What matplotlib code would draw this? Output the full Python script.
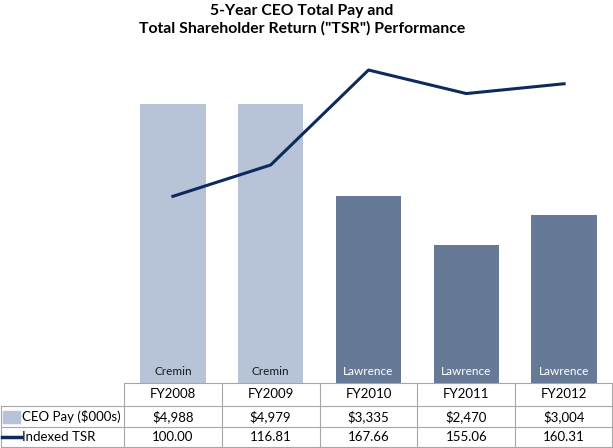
import matplotlib
matplotlib.use('Agg')
import matplotlib.pyplot as plt
from matplotlib.patches import Rectangle
from matplotlib.lines import Line2D

years = ['FY2008', 'FY2009', 'FY2010', 'FY2011', 'FY2012']
ceo_pay = [4988, 4979, 3335, 2470, 3004]
tsr = [100.00, 116.81, 167.66, 155.06, 160.31]
ceo_names = ['Cremin', 'Cremin', 'Lawrence', 'Lawrence', 'Lawrence']

light = '#b7c3d6'
dark = '#667a98'
navy = '#0c2a5e'
grid = '#a6a6a6'
font = 'Lato'

plt.rcParams['font.family'] = [font, 'DejaVu Sans']

W, H = 613, 448
fig = plt.figure(figsize=(W / 100, H / 100), dpi=100)

# plot area in pixels
x0, x1 = 124, 613
ytop, ybot = 47, 383
ax = fig.add_axes([x0 / W, 1 - ybot / H, (x1 - x0) / W, (ybot - ytop) / H])

xs = range(len(years))
colors = [light if n == 'Cremin' else dark for n in ceo_names]
ax.bar(xs, ceo_pay, width=0.67, color=colors)
ax.set_xlim(-0.5, len(years) - 0.5)
ax.set_ylim(0, 6000)
for i, n in enumerate(ceo_names):
    ax.text(i, 110, n, ha='center', va='bottom', fontsize=8.5,
            color='#1a1a1a' if n == 'Cremin' else 'white')

ax2 = ax.twinx()
ax2.plot(xs, tsr, color=navy, linewidth=2.2)
ax2.set_ylim(0, 180)

for a in (ax, ax2):
    a.set_xticks([])
    a.set_yticks([])
    for s in a.spines.values():
        s.set_visible(False)

fig.text(302 / W, 1 - 11 / H, '5-Year CEO Total Pay and',
         ha='center', va='center', fontsize=11.3, fontweight='bold')
fig.text(302 / W, 1 - 28 / H, 'Total Shareholder Return ("TSR") Performance',
         ha='center', va='center', fontsize=11.3, fontweight='bold')

# data table below the plot area
col_w = (x1 - x0) / len(years)
rows = [(383, 406), (406, 427), (427, 447)]
lines = []
# horizontal lines
lines.append(((x0, x1), (383, 383)))
lines.append(((1, x1), (406, 406)))
lines.append(((1, x1), (427, 427)))
lines.append(((1, x1), (447, 447)))
# vertical lines
lines.append(((1, 1), (406, 447)))
for i in range(len(years) + 1):
    xv = min(x0 + i * col_w, x1 - 1)
    lines.append(((xv, xv), (383, 447)))
for (lx, ly) in lines:
    fig.add_artist(Line2D([v / W for v in lx], [1 - v / H for v in ly],
                          color=grid, linewidth=0.8))

row_vals = [years,
            ['$' + format(v, ',') for v in ceo_pay],
            ['%.2f' % v for v in tsr]]
for r, (ya, yb) in enumerate(rows):
    yc = 1 - (ya + yb) / 2 / H
    for i, t in enumerate(row_vals[r]):
        fig.text((x0 + (i + 0.5) * col_w) / W, yc, t, ha='center', va='center',
                 fontsize=9.5, color='black')

# legend entries in the row labels
yc1 = 1 - (406 + 427) / 2 / H
yc2 = 1 - (427 + 447) / 2 / H
fig.add_artist(Rectangle((3 / W, yc1 - 6 / H), 17 / W, 12 / H, color=light,
                         transform=fig.transFigure))
fig.add_artist(Line2D([2 / W, 21 / W], [yc2, yc2], color=navy, linewidth=2.5))
fig.text(22 / W, yc1, 'CEO Pay ($000s)', ha='left', va='center', fontsize=9.5)
fig.text(22 / W, yc2, 'Indexed TSR', ha='left', va='center', fontsize=9.5)

fig.savefig('out.png', dpi=100)
